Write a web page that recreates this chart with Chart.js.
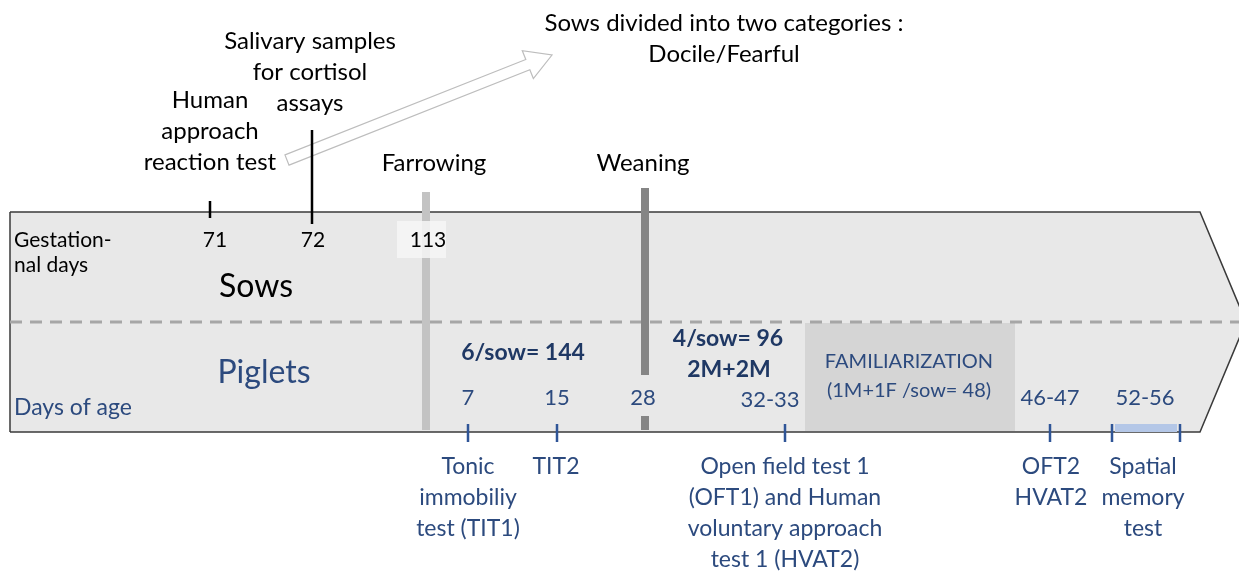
<!DOCTYPE html>
<html>
<head>
<meta charset="utf-8">
<script src="https://cdn.jsdelivr.net/npm/chart.js@4.4.1/dist/chart.umd.min.js"></script>
<style>
  html, body { margin: 0; padding: 0; background: #fff; }
  #wrap { width: 1239px; height: 574px; position: relative; }
</style>
</head>
<body>
<div id="wrap"><canvas id="timeline"></canvas></div>
<script>
'use strict';

/* ============================================================
   EXPERIMENTAL TIMELINE — sows / piglets
   x = position along the timeline, y = row position (top down)
   ============================================================ */

// ── SOWS (gestational days) ──
const sowDays = ['71', '72', '113'];
const sowDayX = [215, 313, 428];
const sowTickX = [210, 312];
const sowTickTop = [201, 130];

// ── KEY EVENTS ──
const eventNames = ['Farrowing', 'Weaning'];
const eventX = [426, 645];

// ── PIGLETS (days of age) ──
const pigletDays = ['7', '15', '28', '32-33', '46-47', '52-56'];
const pigletDayX = [468, 557, 643, 770, 1050, 1145];
const pigletTickX = [468, 557, 785, 1050, 1112, 1180];

// ── TESTS ──
const testLabels = [
  ['Tonic', 'immobiliy', 'test (TIT1)'],
  ['TIT2'],
  ['Open field test 1', '(OFT1) and Human', 'voluntary approach', 'test 1 (HVAT2)'],
  ['OFT2', 'HVAT2'],
  ['Spatial', 'memory', 'test'],
];
const testX = [468, 556, 785, 1051, 1143];

const FONT = 'Lato, "Open Sans", sans-serif';
const BLUE = '#2c4a7e';
const BLUE_DARK = '#1f3864';
const TICK_BLUE = '#2f5597';

// ── HELPERS ──
const seg = (x1, y1, x2, y2, color, width, extra = {}) => ({
  data: [{ x: x1, y: y1 }, { x: x2, y: y2 }],
  borderColor: color,
  borderWidth: width,
  borderCapStyle: 'butt',
  ...extra,
});

const datasets = [];

// body of the arrow-shaped timeline
datasets.push({
  data: [{ x: 10, y: 212 }, { x: 1200, y: 212 }, { x: 1246, y: 322 }],
  borderColor: '#3a3a3a', borderWidth: 1.5, backgroundColor: '#e8e8e8', fill: '+1',
});
datasets.push({
  data: [{ x: 10, y: 432 }, { x: 1200, y: 432 }, { x: 1246, y: 322 }],
  borderColor: '#3a3a3a', borderWidth: 1.5,
});
datasets.push(seg(10, 212, 10, 432, '#3a3a3a', 1.5));

// familiarization period
datasets.push({
  data: [{ x: 805, y: 323 }, { x: 1015, y: 323 }],
  borderWidth: 0, borderColor: 'rgba(0,0,0,0)', backgroundColor: '#d5d5d5', fill: { value: 431 },
});

// sows / piglets separator
datasets.push(seg(10, 322, 1239, 322, '#a6a6a6', 3, { borderDash: [12, 8] }));

// farrowing and weaning bars
datasets.push(seg(eventX[0], 192, eventX[0], 430, '#c3c3c3', 8));
datasets.push(seg(eventX[1], 188, eventX[1], 375, '#858585', 8));
datasets.push(seg(eventX[1], 416, eventX[1], 430, '#858585', 8));

// spatial memory test window
datasets.push(seg(pigletTickX[4] + 3, 428, pigletTickX[5] - 3, 428, '#b4c7e7', 8));

// sow ticks
sowTickX.forEach((x, i) => datasets.push(seg(x, sowTickTop[i], x, i === 0 ? 218 : 224, '#000', 2.5)));

// piglet ticks
pigletTickX.forEach(x => datasets.push(seg(x, 424, x, 442, TICK_BLUE, 2.5)));

datasets.forEach((d, i) => {
  d.showLine = true;
  d.pointRadius = 0;
  d.order = datasets.length - i;
  if (d.fill === undefined) d.fill = false;
});

// ── TEXT + DECORATION PLUGIN ──
const timelinePlugin = {
  id: 'timelineDecor',
  beforeDatasetsDraw(chart) {
    const { ctx, scales: { x: sx, y: sy } } = chart;
    // hollow arrow "samples -> categories"
    const x0 = sx.getPixelForValue(287), y0 = sy.getPixelForValue(160);
    const x1 = sx.getPixelForValue(552), y1 = sy.getPixelForValue(55);
    const dx = x1 - x0, dy = y1 - y0, len = Math.hypot(dx, dy);
    const ux = dx / len, uy = dy / len, nx = -uy, ny = ux;
    const shaft = 5.5, head = 15, headLen = 26;
    const bx = x1 - ux * headLen, by = y1 - uy * headLen;
    ctx.save();
    ctx.beginPath();
    ctx.moveTo(x0 + nx * shaft, y0 + ny * shaft);
    ctx.lineTo(bx + nx * shaft, by + ny * shaft);
    ctx.lineTo(bx + nx * head, by + ny * head);
    ctx.lineTo(x1, y1);
    ctx.lineTo(bx - nx * head, by - ny * head);
    ctx.lineTo(bx - nx * shaft, by - ny * shaft);
    ctx.lineTo(x0 - nx * shaft, y0 - ny * shaft);
    ctx.closePath();
    ctx.fillStyle = '#fff';
    ctx.fill();
    ctx.strokeStyle = '#bdbdbd';
    ctx.lineWidth = 1.2;
    ctx.stroke();
    ctx.restore();
  },
  afterDatasetsDraw(chart) {
    const { ctx, scales: { x: sx, y: sy } } = chart;
    const txt = (s, x, y, size, color = '#000', align = 'center', weight = 'normal') => {
      ctx.font = `${weight} ${size}px ${FONT}`;
      ctx.fillStyle = color;
      ctx.textAlign = align;
      ctx.textBaseline = 'middle';
      ctx.fillText(s, sx.getPixelForValue(x), sy.getPixelForValue(y));
    };
    const lines = (arr, x, y0, step, size, color) => arr.forEach((s, i) => txt(s, x, y0 + i * step, size, color));

    ctx.save();

    // box behind "113"
    const bx0 = sx.getPixelForValue(397), bx1 = sx.getPixelForValue(446);
    const by0 = sy.getPixelForValue(221), by1 = sy.getPixelForValue(258);
    ctx.fillStyle = 'rgba(246,246,246,0.85)';
    ctx.fillRect(bx0, by0, bx1 - bx0, by1 - by0);

    // top annotations
    lines(['Sows divided into two categories :', 'Docile/Fearful'], 724, 23, 31, 24);
    lines(['Salivary samples', 'for cortisol', 'assays'], 310, 41, 31, 24);
    lines(['Human', 'approach', 'reaction test'], 210, 100, 31, 24);
    eventNames.forEach((s, i) => txt(s, eventX[i] + (i === 0 ? 8 : -2), 163, 24));

    // sows row
    sowDays.forEach((s, i) => txt(s, sowDayX[i], 240, 21));
    txt('Gestation-', 14, 240, 21, '#000', 'left');
    txt('nal days', 14, 265, 21, '#000', 'left');
    txt('Sows', 256, 287, 32);

    // piglets row
    txt('Piglets', 264, 373, 32, BLUE);
    txt('Days of age', 14, 408, 23, BLUE, 'left');
    txt('6/sow= 144', 523, 353, 23, BLUE_DARK, 'center', 'bold');
    txt('4/sow= 96', 728, 339, 23, BLUE_DARK, 'center', 'bold');
    txt('2M+2M', 729, 370, 23, BLUE_DARK, 'center', 'bold');
    pigletDays.forEach((s, i) => txt(s, pigletDayX[i], i === 3 ? 400 : 398, 22, BLUE));
    txt('FAMILIARIZATION', 909, 362, 20, BLUE);
    txt('(1M+1F /sow= 48)', 909, 391, 20, BLUE);

    // tests below the timeline
    testLabels.forEach((arr, i) => lines(arr, testX[i], 467, 31, 23, BLUE));

    ctx.restore();
  },
};

new Chart(document.getElementById('timeline'), {
  type: 'scatter',
  data: { datasets },
  options: {
    responsive: true,
    maintainAspectRatio: false,
    animation: false,
    events: [],
    layout: { padding: 0 },
    plugins: { legend: { display: false }, tooltip: { enabled: false } },
    scales: {
      x: { type: 'linear', min: 0, max: 1239, display: false },
      y: { type: 'linear', min: 0, max: 574, reverse: true, display: false },
    },
  },
  plugins: [timelinePlugin],
});
</script>
</body>
</html>
